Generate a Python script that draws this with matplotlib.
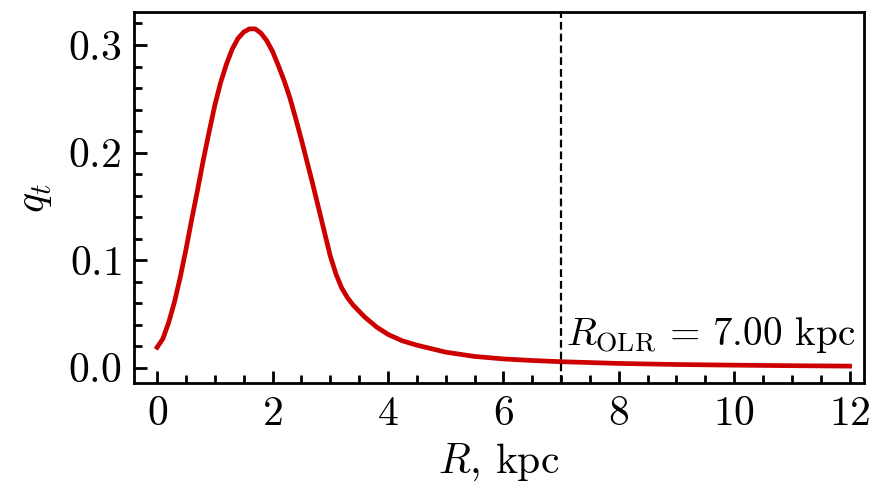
import numpy as np
import matplotlib
matplotlib.use("Agg")
import matplotlib.pyplot as plt
from matplotlib.ticker import MultipleLocator

# radius (kpc) and q_t
R = [0.0, 0.1, 0.2, 0.3, 0.4, 0.5, 0.6, 0.7, 0.8, 0.9, 1.0, 1.1, 1.2, 1.3, 1.4,
     1.5, 1.6, 1.7, 1.8, 1.9, 2.0, 2.1, 2.2, 2.3, 2.4, 2.5, 2.6, 2.7, 2.8, 2.9,
     3.0, 3.1, 3.2, 3.3, 3.4, 3.6, 3.8, 4.0, 4.25, 4.5, 5.0, 5.5, 6.0, 6.5, 7.0,
     8.0, 9.0, 10.0, 11.0, 12.0]
q_t = [0.019, 0.027, 0.042, 0.061, 0.084, 0.110, 0.138, 0.165, 0.193, 0.219,
       0.244, 0.265, 0.282, 0.296, 0.306, 0.312, 0.315, 0.315, 0.311, 0.304,
       0.294, 0.281, 0.267, 0.251, 0.232, 0.212, 0.191, 0.170, 0.148, 0.126,
       0.104, 0.087, 0.074, 0.065, 0.058, 0.047, 0.038, 0.031, 0.025, 0.021,
       0.0145, 0.0105, 0.0082, 0.0067, 0.0056, 0.0040, 0.0030, 0.0024, 0.0019,
       0.0015]
R_olr = 7.00

plt.rcParams['font.family'] = 'serif'
plt.rcParams['font.serif'] = ['cmr10']
plt.rcParams['mathtext.fontset'] = 'cm'
plt.rcParams['axes.formatter.use_mathtext'] = True
plt.rcParams['font.size'] = 15

fig = plt.figure(figsize=(4.415, 2.45), dpi=200)
ax = fig.add_axes([0.1518, 0.2184, 0.8267, 0.7571])

ax.plot(R, q_t, color='#cc0000', lw=1.7)
ax.axvline(R_olr, color='k', lw=0.8, ls=(0, (3.5, 1.8)))
ax.text(R_olr + 0.08, 0.012, r'$R_{\rm OLR}\,=\,%.2f$ kpc' % R_olr,
        ha='left', va='bottom', fontsize=14.1)

ax.set_xlim(-0.4, 12.25)
ax.xaxis.set_major_locator(MultipleLocator(2))
ax.xaxis.set_minor_locator(MultipleLocator(0.5))
ax.yaxis.set_major_locator(MultipleLocator(0.1))
ax.yaxis.set_minor_locator(MultipleLocator(0.02))
ax.tick_params(which='both', direction='in', top=False, right=False, width=1.0)
ax.tick_params(which='major', length=4.5, pad=4.5)
ax.tick_params(which='minor', length=2.8)
for s in ax.spines.values():
    s.set_linewidth(1.0)

ax.set_xlabel(r'$R$, kpc', labelpad=3)
ax.set_ylabel(r'$q_t$', labelpad=5)

fig.savefig('out.png', dpi=200)
